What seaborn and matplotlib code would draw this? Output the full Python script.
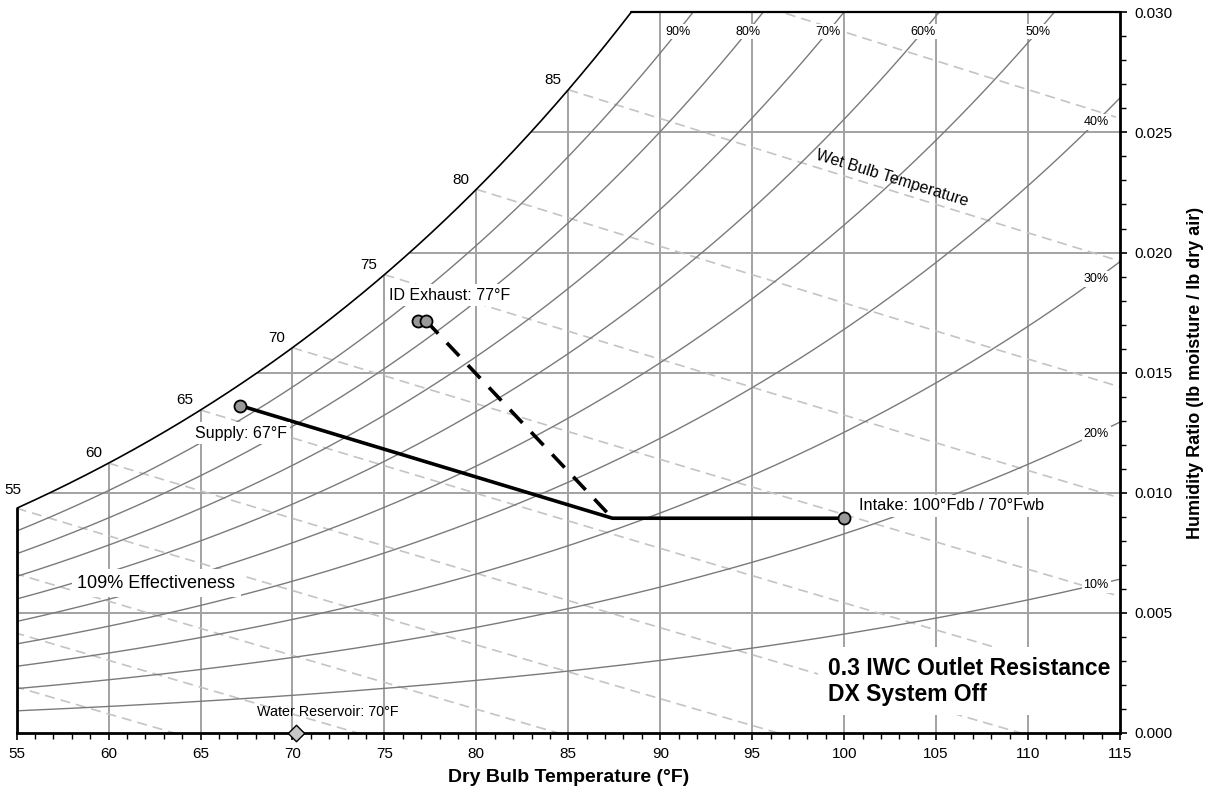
import numpy as np
import pandas as pd
import matplotlib
matplotlib.use("Agg")
import matplotlib.pyplot as plt
import matplotlib.ticker as mticker
import seaborn as sns

# ---------------- data ----------------
rh_levels = [10, 20, 30, 40, 50, 60, 70, 80, 90]          # relative humidity curves (%)
rh_top_labeled = [50, 60, 70, 80, 90]
rh_side_labeled = [10, 20, 30, 40]
wb_temps = [40, 45, 50, 55, 60, 65, 70, 75, 80, 85, 90]   # wet-bulb lines (°F)
wb_labeled = [55, 60, 65, 70, 75, 80, 85]
db_ticks = [55, 60, 65, 70, 75, 80, 85, 90, 95, 100, 105, 110, 115]
w_ticks = [0.000, 0.005, 0.010, 0.015, 0.020, 0.025, 0.030]
pressure_psia = 14.45

process_db = [67.15, 87.4, 100.0]          # supply -> mixed -> intake
process_w = [0.01363, 0.00894, 0.00894]
state_db = [67.15, 100.0, 76.8, 77.25]     # supply, intake, exhaust (2)
state_w = [0.01363, 0.00894, 0.01717, 0.01717]
exhaust_line_db = [77.25, 87.4]
exhaust_line_w = [0.01717, 0.00894]
reservoir_db = [70.2]
reservoir_w = [0.0]

# ---------------- psychrometrics ----------------
def pws(t_f):
    T = np.asarray(t_f, dtype=float) + 459.67
    C8, C9, C10 = -1.0440397e4, -1.1294650e1, -2.7022355e-2
    C11, C12, C13 = 1.2890360e-5, -2.4780681e-9, 6.5459673
    return np.exp(C8 / T + C9 + C10 * T + C11 * T**2 + C12 * T**3 + C13 * np.log(T))

def w_from_pw(pw):
    return 0.621945 * pw / (pressure_psia - pw)

def w_sat(t):
    return w_from_pw(pws(t))

def w_rh(t, rh):
    return w_from_pw(rh / 100.0 * pws(t))

def w_wb(t, twb):
    ws = w_sat(twb)
    return ((1093 - 0.556 * twb) * ws - 0.240 * (t - twb)) / (1093 + 0.444 * t - twb)

XMIN, XMAX, YMIN, YMAX = db_ticks[0], db_ticks[-1], w_ticks[0], w_ticks[-1]
db = np.linspace(XMIN, XMAX, 1201)
sat = w_sat(db)
t_top = float(np.interp(YMAX, sat, db))

sat_df = pd.DataFrame({"db": np.append(db[sat < YMAX], t_top),
                       "w": np.append(sat[sat < YMAX], YMAX)})
rh_df = pd.concat([pd.DataFrame({"db": db, "w": w_rh(db, r), "rh": r}) for r in rh_levels])
wb_frames = []
for t in wb_temps:
    t_zero = t + (1093 - 0.556 * t) * w_sat(t) / 0.240
    xs = np.linspace(t, min(XMAX, t_zero), 300)
    wb_frames.append(pd.DataFrame({"db": xs, "w": np.clip(w_wb(xs, t), 0, None), "wb": t}))
wb_df = pd.concat(wb_frames)

# ---------------- figure ----------------
sns.set_theme(style="white")
plt.rcParams["font.family"] = ["Liberation Sans", "DejaVu Sans"]
plt.rcParams["axes.unicode_minus"] = False
plt.rcParams["text.color"] = "black"
plt.rcParams["axes.labelcolor"] = "black"
plt.rcParams["xtick.color"] = "black"
plt.rcParams["ytick.color"] = "black"

W, H = 1209, 794
fig = plt.figure(figsize=(W / 100, H / 100), dpi=100)
ax = fig.add_axes([16.6 / W, 1 - 733 / H, (1120 - 16.6) / W, (733 - 12.3) / H])
ax.set_xlim(XMIN, XMAX)
ax.set_ylim(YMIN, YMAX)
ax.set_facecolor("white")

grid_c = "#a2a2a2"
# vertical grid up to saturation
vx = np.array(db_ticks[1:-1], dtype=float)
ax.vlines(vx, YMIN, np.minimum(w_sat(vx), YMAX), color=grid_c, lw=1.4, zorder=1)
# horizontal grid from saturation to right edge
hy = np.array(w_ticks[1:-1])
ax.hlines(hy, np.interp(hy, sat, db), XMAX, color=grid_c, lw=1.4, zorder=1)

# wet bulb lines
sns.lineplot(data=wb_df, x="db", y="w", units="wb", estimator=None, sort=False,
             color="#c4c4c4", lw=1.2, linestyle=(0, (6, 3.6)), ax=ax, zorder=1.2)
# RH curves
sns.lineplot(data=rh_df, x="db", y="w", units="rh", estimator=None, sort=False,
             color="#7a7a7a", lw=1.0, ax=ax, zorder=1.5)
# saturation curve
sns.lineplot(data=sat_df, x="db", y="w", sort=False, color="black", lw=1.2, ax=ax, zorder=2)

# process lines
sns.lineplot(x=process_db, y=process_w, sort=False, color="black", lw=2.6, ax=ax, zorder=4)
sns.lineplot(x=exhaust_line_db, y=exhaust_line_w, sort=False, color="black", lw=2.6,
             linestyle=(0, (5, 3.5)), ax=ax, zorder=4)
sns.scatterplot(x=state_db, y=state_w, s=75, color="#999999", edgecolor="black",
                linewidth=1.3, ax=ax, zorder=5)
sns.scatterplot(x=reservoir_db, y=reservoir_w, marker="D", s=70, color="#c8c8c8",
                edgecolor="black", linewidth=1.0, ax=ax, zorder=6, clip_on=False)

# spines
for s in ["left", "top"]:
    ax.spines[s].set_visible(False)
ax.spines["bottom"].set_linewidth(2.0)
ax.spines["right"].set_linewidth(2.0)
ax.spines["bottom"].set_color("black")
ax.spines["right"].set_color("black")
ax.plot([XMIN, XMIN], [YMIN, w_sat(XMIN)], color="black", lw=2.0, clip_on=False, zorder=3)
ax.plot([t_top, XMAX], [YMAX, YMAX], color="black", lw=1.6, clip_on=False, zorder=3)

# ticks
ax.set_xticks(db_ticks)
ax.set_yticks(w_ticks)
ax.xaxis.set_minor_locator(mticker.MultipleLocator(1))
ax.yaxis.set_minor_locator(mticker.MultipleLocator(0.001))
ax.yaxis.set_major_formatter(mticker.FormatStrFormatter("%.3f"))
ax.yaxis.tick_right()
ax.yaxis.set_label_position("right")
ax.tick_params(which="major", direction="out", length=5, width=1.2, labelsize=11,
               colors="black", pad=5)
ax.tick_params(which="minor", direction="out", length=4, width=1.0, colors="black")
ax.tick_params(axis="x", which="both", bottom=True, top=False)
ax.tick_params(axis="y", which="both", right=True, left=False)
ax.set_xlabel("Dry Bulb Temperature (°F)", fontsize=14, fontweight="bold", labelpad=6,
              color="black")
ax.set_ylabel("Humidity Ratio (lb moisture / lb dry air)", fontsize=13, fontweight="bold",
              labelpad=11, color="black")

# wet-bulb labels along saturation curve
for t in wb_labeled:
    off = (-3, 13) if t == XMIN else (-11, 7)
    ax.annotate(str(t), xy=(t, w_sat(t)), xytext=off, textcoords="offset points",
                ha="center", va="center", fontsize=11, zorder=6, annotation_clip=False)

# RH labels
box = dict(boxstyle="square,pad=0.15", fc="white", ec="none")
for r in rh_top_labeled:
    x = float(np.interp(0.0292, w_rh(db, r), db))
    ax.text(x, 0.0292, f"{r}%", ha="center", va="center", fontsize=9, bbox=box, zorder=6)
for r in rh_side_labeled:
    ax.text(113.7, w_rh(113.7, r), f"{r}%", ha="center", va="center", fontsize=9,
            bbox=box, zorder=6)

# Wet bulb temperature label along the 85°F wb line
p1 = ax.transData.transform((95, w_wb(95, 85)))
p2 = ax.transData.transform((110, w_wb(110, 85)))
ang = np.degrees(np.arctan2(p2[1] - p1[1], p2[0] - p1[0]))
ax.text(102.6, 0.0231, "Wet Bulb Temperature", rotation=ang, rotation_mode="anchor",
        ha="center", va="center", fontsize=11.5, zorder=6)

lbox = dict(boxstyle="square,pad=0.2", fc="white", ec="none")
ax.text(75.25, 0.01823, "ID Exhaust: 77°F", ha="left", va="center", fontsize=11.5,
        bbox=lbox, zorder=6)
ax.text(64.7, 0.01248, "Supply: 67°F", ha="left", va="center", fontsize=11.5,
        bbox=lbox, zorder=6)
ax.text(58.29, 0.00623, "109% Effectiveness", ha="left", va="center", fontsize=13,
        bbox=dict(boxstyle="square,pad=0.3", fc="white", ec="none"), zorder=6)
ax.text(100.8, 0.00945, "Intake: 100°Fdb / 70°Fwb", ha="left", va="center", fontsize=11.8,
        bbox=lbox, zorder=6)
ax.text(68.07, 0.00089, "Water Reservoir: 70°F", ha="left", va="center", fontsize=10.3,
        zorder=6)
ax.text(99.1, 0.00215, "0.3 IWC Outlet Resistance\nDX System Off", ha="left", va="center",
        fontsize=16.5, fontweight="bold", linespacing=1.2,
        bbox=dict(boxstyle="square,pad=0.4", fc="white", ec="none"), zorder=7, clip_on=False)

fig.savefig("out.png", dpi=100, facecolor="white")
